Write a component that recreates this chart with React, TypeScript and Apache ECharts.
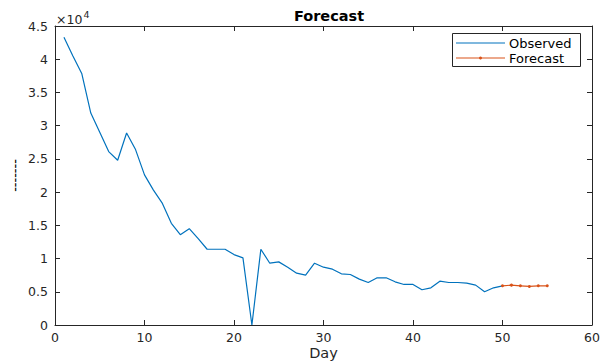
import React, { useEffect, useRef } from "react";
import * as echarts from "echarts";

const observedDays = [1,2,3,4,5,6,7,8,9,10,11,12,13,14,15,16,17,18,19,20,21,22,23,24,25,26,27,28,29,30,31,32,33,34,35,36,37,38,39,40,41,42,43,44,45,46,47,48,49,50];
const observedValues = [43300,40500,37800,31900,29000,26100,24800,28900,26400,22600,20300,18300,15300,13600,14500,13000,11400,11400,11400,10600,10100,0,11400,9300,9500,8700,7800,7500,9300,8700,8400,7700,7600,6900,6400,7100,7100,6500,6100,6100,5300,5600,6600,6400,6400,6300,6000,5000,5600,5900];
const forecastDays = [50,51,52,53,54,55];
const forecastValues = [5900,6000,5900,5800,5900,5900];
const xTicks = [0,10,20,30,40,50,60];
const yTicks = [0,5000,10000,15000,20000,25000,30000,35000,40000,45000];
const legendNames = ["Observed", "Forecast"];

const AX = "#262626";
const BLUE = "#0072BD";
const ORANGE = "#D95319";
const FONT = "DejaVu Sans";

export default function App() {
  const ref = useRef<HTMLDivElement>(null);
  useEffect(() => {
    if (!ref.current) return;
    const chart = echarts.init(ref.current, null, { renderer: "svg" });
    const baseAxisLine = { show: true, onZero: false, lineStyle: { color: AX, width: 1 } };
    const tick = { show: true, inside: true, length: 5, lineStyle: { color: AX } };
    const lx = 452, ly = 33, lw = 128, lh = 33;
    chart.setOption({
      animation: false,
      backgroundColor: "#ffffff",
      textStyle: { fontFamily: FONT },
      title: {
        text: "Forecast",
        left: 324,
        textAlign: "center",
        top: 3,
        textStyle: { fontFamily: FONT, fontWeight: "bold", fontSize: 14.5, color: "#000" },
      },
      grid: { left: 55, right: 9, top: 26, bottom: 37, containLabel: false, outerBoundsMode: "none" },
      xAxis: [
        {
          type: "value",
          min: 0,
          max: 60,
          interval: 10,
          name: "Day",
          nameLocation: "middle",
          nameGap: 20,
          nameMoveOverlap: false,
          nameTextStyle: { fontFamily: FONT, fontSize: 14.5, color: AX },
          axisLine: baseAxisLine,
          axisTick: tick,
          axisLabel: { color: AX, fontFamily: FONT, fontSize: 12.5, margin: 6, customValues: xTicks },
          splitLine: { show: false },
        },
        {
          type: "value",
          position: "top",
          min: 0,
          max: 60,
          interval: 10,
          axisLine: baseAxisLine,
          axisTick: tick,
          axisLabel: { show: false },
          splitLine: { show: false },
        },
      ],
      yAxis: [
        {
          type: "value",
          min: 0,
          max: 45000,
          interval: 5000,
          name: "-------",
          nameLocation: "middle",
          nameRotate: 90,
          nameGap: 33,
          nameMoveOverlap: false,
          nameTextStyle: { fontFamily: "Liberation Sans", fontSize: 14, color: "#000" },
          axisLine: baseAxisLine,
          axisTick: tick,
          axisLabel: {
            color: AX,
            fontFamily: FONT,
            fontSize: 12.5,
            margin: 7,
            customValues: yTicks,
            formatter: (v: number) => String(v / 10000),
          },
          splitLine: { show: false },
        },
        {
          type: "value",
          position: "right",
          min: 0,
          max: 45000,
          interval: 5000,
          axisLine: baseAxisLine,
          axisTick: tick,
          axisLabel: { show: false },
          splitLine: { show: false },
        },
      ],
      graphic: [
        {
          type: "text",
          left: 56,
          top: 9,
          style: {
            text: "{a|×10}{b|4}",
            rich: {
              a: { fontFamily: FONT, fontSize: 12.5, fill: AX, verticalAlign: "bottom" },
              b: { fontFamily: FONT, fontSize: 9.5, fill: AX, verticalAlign: "top", padding: [0, 0, 7, 1] },
            },
          },
        },
        {
          type: "group",
          z: 100,
          children: [
            {
              type: "rect",
              shape: { x: lx + 0.5, y: ly + 0.5, width: lw, height: lh },
              style: { fill: "#fff", stroke: AX, lineWidth: 1 },
            },
            {
              type: "line",
              shape: { x1: lx + 4, y1: ly + 10, x2: lx + 53, y2: ly + 10 },
              style: { stroke: BLUE, lineWidth: 1.2 },
            },
            {
              type: "line",
              shape: { x1: lx + 4, y1: ly + 25, x2: lx + 53, y2: ly + 25 },
              style: { stroke: ORANGE, lineWidth: 1.2 },
            },
            {
              type: "circle",
              shape: { cx: lx + 28.5, cy: ly + 25, r: 1.5 },
              style: { fill: ORANGE },
            },
            {
              type: "text",
              x: lx + 57,
              y: ly + 10.5,
              style: { text: legendNames[0], fontFamily: FONT, fontSize: 13, fill: "#000", verticalAlign: "middle" },
            },
            {
              type: "text",
              x: lx + 57,
              y: ly + 25,
              style: { text: legendNames[1], fontFamily: FONT, fontSize: 13, fill: "#000", verticalAlign: "middle" },
            },
          ],
        },
      ],
      series: [
        {
          name: legendNames[0],
          type: "line",
          xAxisIndex: 0,
          yAxisIndex: 0,
          data: observedDays.map((d, i) => [d, observedValues[i]]),
          symbol: "none",
          lineStyle: { color: BLUE, width: 1.2 },
          itemStyle: { color: BLUE },
        },
        {
          name: legendNames[1],
          type: "line",
          xAxisIndex: 0,
          yAxisIndex: 0,
          data: forecastDays.map((d, i) => [d, forecastValues[i]]),
          symbol: "circle",
          symbolSize: 3,
          showSymbol: true,
          lineStyle: { color: ORANGE, width: 1.2 },
          itemStyle: { color: ORANGE },
        },
      ],
    });
    return () => chart.dispose();
  }, []);
  return (
    <div
      ref={ref}
      style={{ position: "fixed", left: 0, top: 0, width: 601, height: 362, background: "#fff" }}
    />
  );
}
